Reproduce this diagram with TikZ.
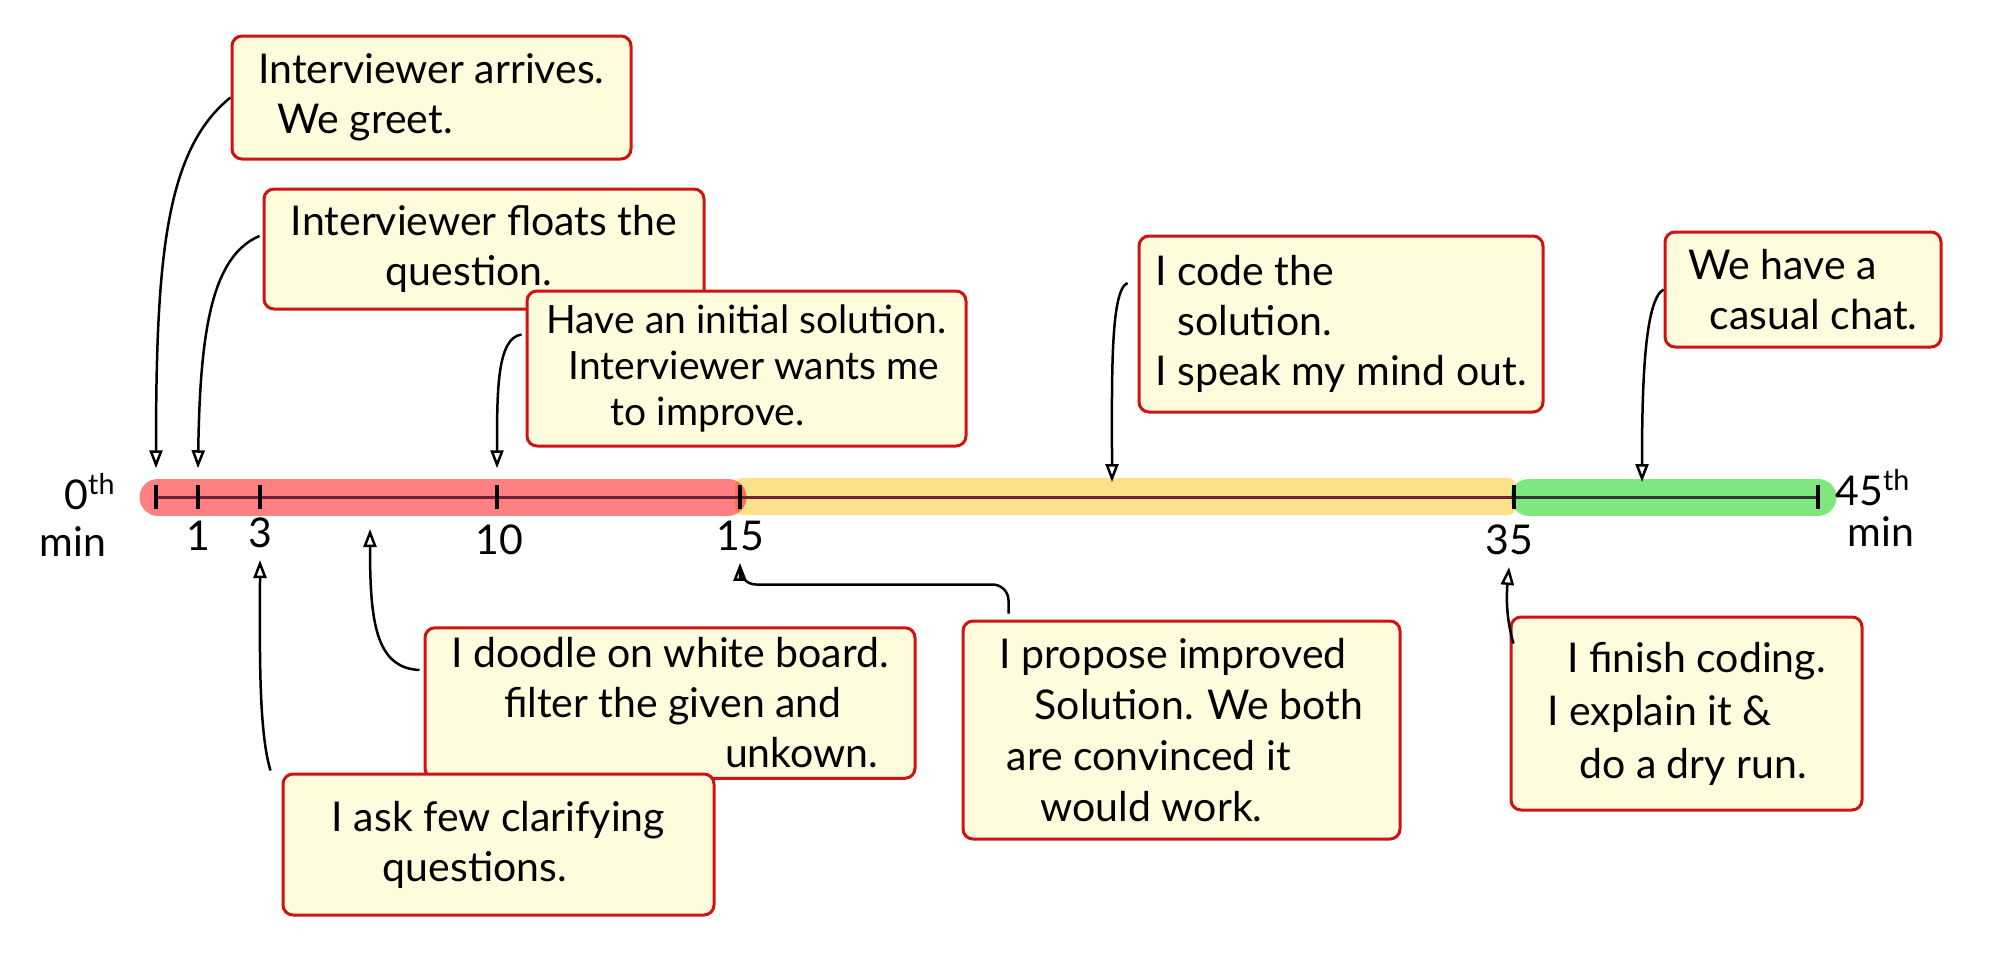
\documentclass[tikz,border=0pt]{standalone}
\usepackage{fontspec}
\setmainfont{Lato}
\usepackage{tikz}
\usetikzlibrary{arrows.meta,calc}
\tikzset{every picture/.style={line width=0.75pt}}

\definecolor{boxred}{RGB}{208,18,18}
\definecolor{boxfill}{RGB}{255,252,222}
\definecolor{bandred}{RGB}{255,128,128}
\definecolor{bandyellow}{RGB}{252,224,138}
\definecolor{bandgreen}{RGB}{126,232,126}
\definecolor{linemaroon}{RGB}{112,32,58}
\newcommand{\notefont}{\fontsize{20.5}{25}\selectfont}

\tikzset{
  note/.style={draw=boxred, fill=boxfill, line width=1.5pt, rounded corners=5pt, align=left, inner sep=5pt, font=\notefont},
  arr/.style={line width=1.25pt, -{Triangle[open,length=9pt,width=6.5pt]}},
  tickpt/.style={inner sep=0pt, minimum width=0pt, minimum height=28pt},
  ticklbl/.style={inner sep=1pt, outer sep=5pt, font=\notefont},
  tickline/.style={line width=2.25pt},
}

\begin{document}
\begin{tikzpicture}[x=0.5pt,y=0.5pt,yscale=-1,xscale=1]
\useasboundingbox (0,0) rectangle (2000,954);

%Shape: highlight bands
\fill[bandyellow, rounded corners=4pt] (735,478) rectangle (1516,515);
\draw[bandred, line width=18.5pt, line cap=round, blend mode=multiply] (158,497) -- (728,497);
\draw[bandgreen, line width=18.5pt, line cap=round] (1529,497) -- (1818,497);

%Tick points
\node[tickpt] (t0) at (156,497) {};
\node[tickpt] (t1) at (198,497) {};
\node[tickpt] (t3) at (260,497) {};
\node[tickpt] (t10) at (497,497) {};
\node[tickpt] (t15) at (740,497) {};
\node[tickpt] (t35) at (1514,497) {};
\node[tickpt] (t45) at (1818,497) {};

%Straight Lines: timeline
\draw[linemaroon, line width=1.5pt] (t0.center) -- (t35.center);
\draw[black!80, line width=1.5pt] (t35.center) -- (t45.center);
%Straight Lines: ticks
\draw[tickline] ($(t0)+(0,-12)$) -- ($(t0)+(0,12)$);
\draw[tickline] ($(t1)+(0,-12)$) -- ($(t1)+(0,12)$);
\draw[tickline] ($(t3)+(0,-12)$) -- ($(t3)+(0,12)$);
\draw[tickline] ($(t10)+(0,-12)$) -- ($(t10)+(0,12)$);
\draw[tickline] ($(t15)+(0,-12)$) -- ($(t15)+(0,12)$);
\draw[tickline] ($(t35)+(0,-12)$) -- ($(t35)+(0,12)$);
\draw[tickline] ($(t45)+(0,-12)$) -- ($(t45)+(0,12)$);

% Text Node
\draw (90,492) node[ticklbl] (l0) {0\textsuperscript{th}};
% Text Node
\draw (73,542) node[ticklbl] (m0) {min};
% Text Node
\draw (198,536) node[ticklbl] (l1) {1};
% Text Node
\draw (260,533) node[ticklbl] (l3) {3};
% Text Node
\draw (499,540) node[ticklbl] (l10) {10};
% Text Node
\draw (740,536) node[ticklbl] (l15) {15};
% Text Node
\draw (1509,540) node[ticklbl] (l35) {35};
% Text Node
\draw (1873,488) node[ticklbl] (l45) {45\textsuperscript{th}};
% Text Node
\draw (1881,532) node[ticklbl] (m45) {min};

%Box: notes above the timeline
\draw (431.5,97.5) node[note, minimum width=199.5pt, minimum height=61.5pt] (greet) {Interviewer arrives.\\\hspace*{9.5pt}We greet.};
\draw (484,249) node[note, minimum width=220pt, minimum height=60pt] (flo) {Interviewer floats the\\\hspace*{47.5pt}question.};
\draw (746.5,368.5) node[note, minimum width=219.5pt, minimum height=77.5pt, font=\fontsize{19.5}{23}\selectfont] (init) {Have an initial solution.\\\hspace*{11pt}Interviewer wants me\\\hspace*{32pt}to improve.};
\draw (1341,324) node[note, minimum width=202pt, minimum height=88pt] (code) {I code the\\\hspace*{11pt}solution.\\I speak my mind out.};
\draw (1803,289.5) node[note, minimum width=138pt, minimum height=57.5pt] (chat) {We have a\\\hspace*{10.5pt}casual chat.};

%Box: notes below the timeline
\draw (670,703) node[note, minimum width=245pt, minimum height=75pt] (doodle) {I doodle on white board.\\\hspace*{26.5pt}filter the given and\\\hspace*{137pt}unkown.};
\draw (498.5,844.5) node[note, minimum width=215.5pt, minimum height=70.5pt] (ask) {I ask few clarifying\\\hspace*{25.5pt}questions.};
\draw (1181.5,730) node[note, minimum width=218.5pt, minimum height=109pt, font=\fontsize{20.5}{25.5}\selectfont] (propose) {I propose improved\\\hspace*{17.5pt}Solution. We both\\\hspace*{3.5pt}are convinced it\\\hspace*{20.5pt}would work.};
\draw (1686.5,713.5) node[note, minimum width=175.5pt, minimum height=96.5pt, font=\fontsize{20.5}{26.5}\selectfont] (finish) {\hspace*{10pt}I finish coding.\\I explain it \&\\\hspace*{16pt}do a dry run.};

%Curve Lines: arrows to the timeline
\coordinate (c4) at (1112,482);
\coordinate (c5) at (1642,482);
\coordinate (c6) at (370,529);
\draw[arr] (greet.west) .. controls (165,150) and (156,260) .. (t0.north);
\draw[arr] ($(flo.west)+(-3,-13)$) .. controls (212,256) and (200,330) .. (t1.north);
\draw[arr] ($(init.west)+(-4,-34)$) .. controls (497,338) and (497,390) .. (t10.north);
\draw[arr] ($(code.west)+(-10,-41)$) .. controls (1110,290) and (1112,380) .. (c4);
\draw[arr] (chat.west) .. controls (1644,300) and (1642,390) .. (c5);
\draw[arr] ($(doodle.west)+(-4,-33)$) .. controls (375,668) and (370,620) .. (c6);
\draw[arr] ($(ask.north west)+(-11,-2)$) .. controls (258,730) and (260,640) .. (l3.south);
\draw[arr, rounded corners=8pt] ($(propose.north west)+(47,-6)$) -- ++(0,-29) -| (l15.south);
\draw[arr] ($(finish.west)+(4,-70)$) .. controls (1507,622) and (1506,600) .. (l35.south);
\end{tikzpicture}
\end{document}
